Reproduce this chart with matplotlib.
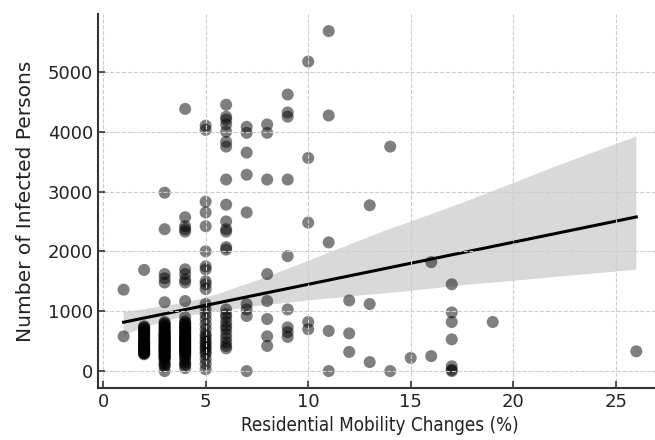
import matplotlib
matplotlib.use("Agg")
import matplotlib.pyplot as plt
import seaborn as sns
import numpy as np

# residential mobility change (%) per observation, grouped by value
mobility = (
    [1] * 2 + [2] * 33 + [3] * 55 + [4] * 53 + [5] * 29 + [6] * 25
    + [7] * 9 + [8] * 8 + [9] * 9 + [10] * 5 + [11] * 5 + [12] * 3
    + [13] * 3 + [14] * 2 + [15] * 1 + [16] * 2 + [17] * 7 + [19] * 1 + [26] * 1
)

# infected persons, same order as mobility
infected = (
    [1360, 580]
    # 2 %
    + [1690, 750, 730, 720, 700, 680, 660, 650, 630, 610, 600, 580, 560, 540,
       520, 500, 480, 470, 460, 450, 430, 420, 400, 380, 370, 350, 340, 330,
       320, 310, 300, 290, 280]
    # 3 %
    + [2980, 2370, 1620, 1550, 1480, 1150,
       820, 800, 780, 760, 740, 720, 700, 680, 660, 640, 620, 600, 590, 570,
       550, 540, 520, 510, 490, 480, 460, 450, 430, 420, 400, 390, 380, 360,
       350, 330, 320, 300, 280, 270, 250, 240, 220, 200, 160, 120, 100, 80,
       610, 530, 440, 370, 310, 230, 0]
    # 4 %
    + [4380, 2570, 2420, 2370, 2330, 1700, 1620, 1530, 1480, 1170, 900,
       830, 810, 790, 770, 750, 730, 720, 700, 690, 670, 650, 630, 620, 600,
       590, 570, 560, 540, 530, 510, 500, 480, 470, 450, 440, 420, 410, 390,
       380, 360, 350, 330, 320, 300, 290, 260, 230, 200, 150, 120, 100, 50]
    # 5 %
    + [4100, 4030, 2830, 2650, 2420, 2000, 1750, 1700, 1500, 1450, 1370,
       1120, 1030, 950, 870, 780, 700, 620, 580, 530, 480, 450, 400, 370, 320,
       280, 200, 120, 30]
    # 6 %
    + [4450, 4250, 4200, 4120, 4000, 3830, 3750, 3200, 2780, 2500, 2370, 2330,
       2070, 2030, 1030, 950, 900, 820, 750, 700, 620, 550, 480, 420, 380]
    + [4080, 3980, 3650, 3280, 2650, 1120, 1030, 920, 0]
    + [4120, 3980, 3200, 1620, 1170, 870, 580, 420]
    + [4620, 4320, 4250, 3200, 1920, 1030, 730, 650, 570]
    + [5170, 3560, 2480, 820, 700]
    + [5680, 4270, 2150, 670, 0]
    + [1180, 630, 320]
    + [2770, 1120, 150]
    + [3750, 0]
    + [220]
    + [1820, 250]
    + [1450, 980, 820, 530, 80, 20, 0]
    + [820]
    + [330]
)

fig = plt.figure(figsize=(6.55, 4.4), dpi=100)
ax = fig.add_axes([0.1496, 0.118, 0.861, 0.85])

sns.regplot(x=np.array(mobility), y=np.array(infected), ax=ax, color="black",
            seed=0,
            scatter_kws={"s": 75, "alpha": 0.5, "edgecolor": "none"},
            line_kws={"linewidth": 2.2})

ax.set_xlim(-0.25, 27.25)
ax.set_ylim(-284, 5964)
ax.set_xticks([0, 5, 10, 15, 20, 25])
ax.set_yticks([0, 1000, 2000, 3000, 4000, 5000])

# dashed grid sits on top of the markers
ax.grid(True, linestyle="--", color="#cccccc", linewidth=0.8)
ax.set_axisbelow(False)

for side in ["top", "right"]:
    ax.spines[side].set_visible(False)
for side in ["left", "bottom"]:
    ax.spines[side].set_color("#333333")
    ax.spines[side].set_linewidth(1.5)

ax.tick_params(direction="in", length=5, width=1.2, colors="#333333",
               labelcolor="#222222", labelsize=13)
ax.set_xlabel("Residential Mobility Changes (%)", fontsize=13.5,
              fontstretch="condensed", color="#222222")
ax.set_ylabel("Number of Infected Persons", fontsize=14.5, color="#222222",
              labelpad=9)

fig.savefig("out.png", dpi=100)
